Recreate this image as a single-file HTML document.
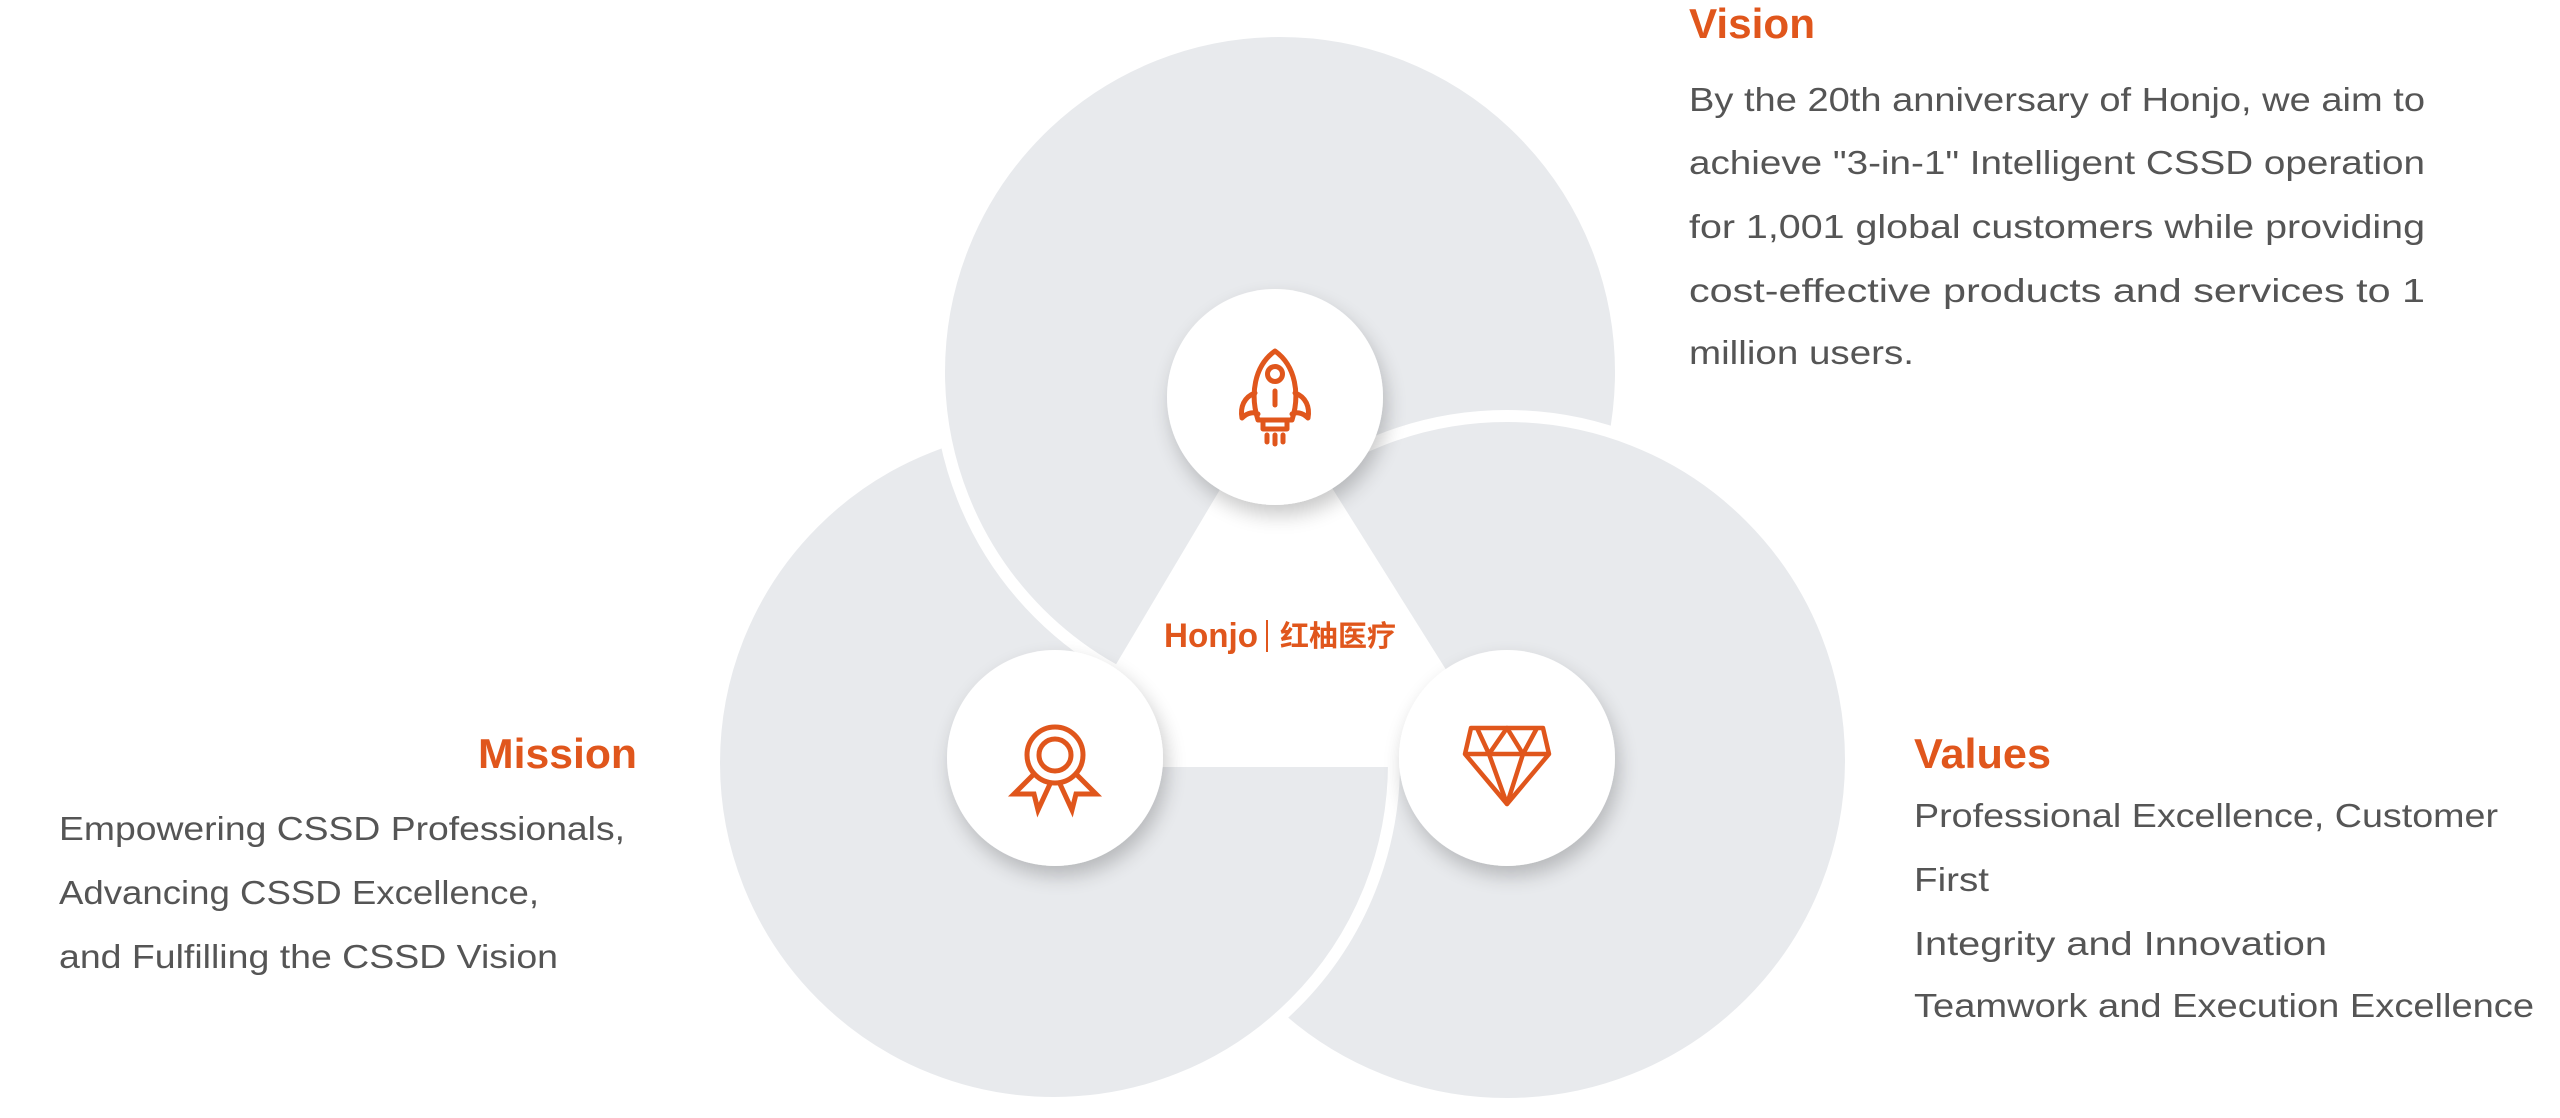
<!DOCTYPE html>
<html><head><meta charset="utf-8"><style>
html,body{margin:0;padding:0;background:#fff;}
svg{display:block;}
text{font-family:"Liberation Sans","Noto Sans CJK SC",sans-serif;}
.t{fill:#e0561c;font-weight:bold;font-size:42px;}
.b{fill:#555;font-size:33px;}
</style></head><body>
<svg width="2560" height="1118" viewBox="0 0 2560 1118" xmlns="http://www.w3.org/2000/svg">
<defs>
<filter id="sh" x="-30%" y="-30%" width="160%" height="160%">
<feGaussianBlur in="SourceAlpha" stdDeviation="10"/>
<feOffset dx="4" dy="10"/>
<feComponentTransfer><feFuncA type="linear" slope="0.22"/></feComponentTransfer>
<feMerge><feMergeNode/><feMergeNode in="SourceGraphic"/></feMerge>
</filter>
<clipPath id="wedge"><polygon points="1279,640 1271,100 2100,100 2100,1050 1963,1003"/></clipPath>
</defs>
<g fill="#e8eaed" stroke="#fff" stroke-width="12">
<circle cx="1507" cy="760" r="344"/>
<circle cx="1054" cy="763" r="340"/>
<circle cx="1280" cy="372" r="341"/>
<circle cx="1507" cy="760" r="344" clip-path="url(#wedge)"/>
</g>
<polygon points="1275,397 1055,767 1507,767" fill="#fff"/>
<g fill="#fff" filter="url(#sh)">
<circle cx="1275" cy="397" r="108"/>
<circle cx="1055" cy="758" r="108"/>
<circle cx="1507" cy="758" r="108"/>
</g>
<!-- rocket -->
<g transform="translate(1275,397)" fill="none" stroke="#e0561c" stroke-width="5" stroke-linejoin="round" stroke-linecap="round">
<path d="M0,-46 C-21,-31 -25,-2 -17,23 L17,23 C25,-2 21,-31 0,-46Z"/>
<circle cx="0" cy="-23" r="7.5"/>
<line x1="0" y1="-6" x2="0" y2="8"/>
<path d="M-20,-4 C-31,0 -35,10 -33,21 C-27,15 -21,15 -17,17"/>
<path d="M20,-4 C31,0 35,10 33,21 C27,15 21,15 17,17"/>
<rect x="-12" y="23" width="24" height="9"/>
<line x1="-8" y1="38" x2="-8" y2="45"/><line x1="0" y1="38" x2="0" y2="47"/><line x1="8" y1="38" x2="8" y2="45"/>
</g>
<!-- medal -->
<g transform="translate(1055,755)" fill="none" stroke="#e0561c" stroke-width="5" stroke-linejoin="miter">
<circle cx="0" cy="0" r="28"/>
<circle cx="0" cy="0" r="16"/>
<path d="M-21,19 L-41,39 L-21,39 L-17,55 L-5,29"/>
<path d="M21,19 L41,39 L21,39 L17,55 L5,29"/>
</g>
<!-- diamond -->
<g transform="translate(1507,758)" fill="none" stroke="#e0561c" stroke-width="4.5" stroke-linejoin="round">
<path d="M-36,-30 L36,-30 L42,-4 L0,46 L-42,-4Z"/>
<line x1="-42" y1="-4" x2="42" y2="-4"/>
<path d="M-30,-30 L-18,-4 L0,-30 L16,-4 L30,-30"/>
<path d="M-18,-4 L0,46 L16,-4"/>
</g>
<!-- logo -->
<text x="1164" y="647" fill="#e0561c" font-weight="bold" font-size="34" textLength="94" lengthAdjust="spacingAndGlyphs">Honjo</text>
<rect x="1266" y="620" width="2" height="32" fill="#e0561c"/>
<text x="1280" y="646" fill="#e0561c" font-weight="bold" font-size="29" textLength="116" lengthAdjust="spacingAndGlyphs">红柚医疗</text>
<!-- Vision -->
<text class="t" x="1689" y="38" textLength="126" lengthAdjust="spacingAndGlyphs">Vision</text>
<text class="b" x="1689" y="111" textLength="736" lengthAdjust="spacingAndGlyphs">By the 20th anniversary of Honjo, we aim to</text>
<text class="b" x="1689" y="174" textLength="736" lengthAdjust="spacingAndGlyphs">achieve "3-in-1" Intelligent CSSD operation</text>
<text class="b" x="1689" y="238" textLength="736" lengthAdjust="spacingAndGlyphs">for 1,001 global customers while providing</text>
<text class="b" x="1689" y="302" textLength="736" lengthAdjust="spacingAndGlyphs">cost-effective  products  and  services  to  1</text>
<text class="b" x="1689" y="364" textLength="225" lengthAdjust="spacingAndGlyphs">million users.</text>
<!-- Mission -->
<text class="t" x="478" y="768" textLength="159" lengthAdjust="spacingAndGlyphs">Mission</text>
<text class="b" x="59" y="840" textLength="566" lengthAdjust="spacingAndGlyphs">Empowering CSSD Professionals,</text>
<text class="b" x="59" y="904" textLength="480" lengthAdjust="spacingAndGlyphs">Advancing CSSD Excellence,</text>
<text class="b" x="59" y="968" textLength="499" lengthAdjust="spacingAndGlyphs">and Fulfilling the CSSD Vision</text>
<!-- Values -->
<text class="t" x="1914" y="768" textLength="137" lengthAdjust="spacingAndGlyphs">Values</text>
<text class="b" x="1914" y="827" textLength="584" lengthAdjust="spacingAndGlyphs">Professional Excellence, Customer</text>
<text class="b" x="1914" y="891" textLength="75" lengthAdjust="spacingAndGlyphs">First</text>
<text class="b" x="1914" y="955" textLength="413" lengthAdjust="spacingAndGlyphs">Integrity and Innovation</text>
<text class="b" x="1914" y="1017" textLength="620" lengthAdjust="spacingAndGlyphs">Teamwork and Execution Excellence</text>
</svg>
</body></html>
